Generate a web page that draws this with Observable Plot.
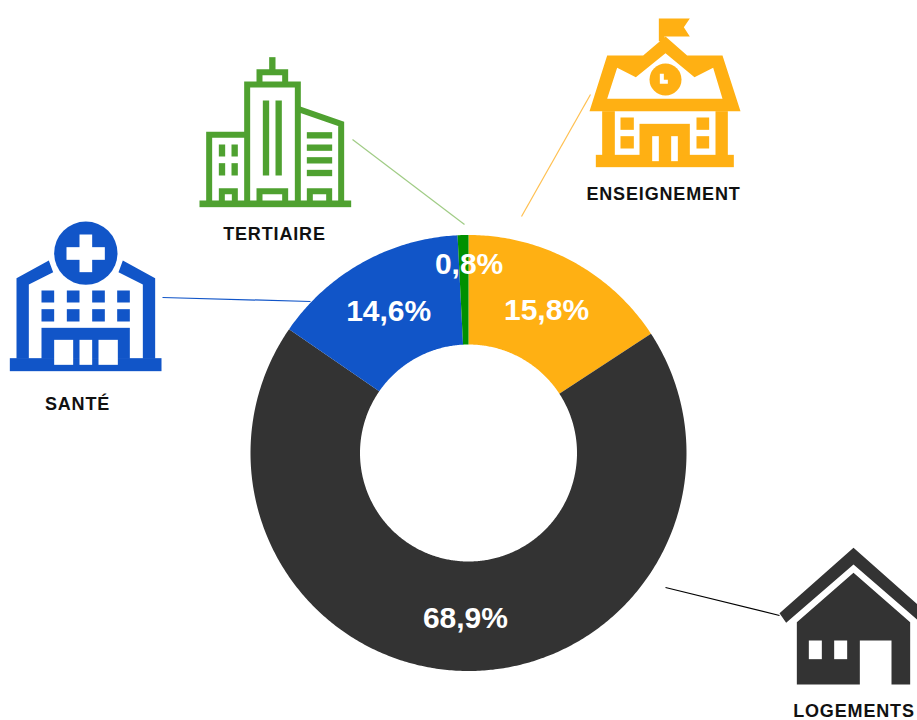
<!DOCTYPE html>
<html lang="fr">
<head>
<meta charset="utf-8">
<style>html,body{margin:0;padding:0;background:#fff}svg{display:block}</style>
<script src="https://cdn.jsdelivr.net/npm/d3@7"></script>
<script src="https://cdn.jsdelivr.net/npm/@observablehq/plot@0.6"></script>
</head>
<body>
<div id="chart"></div>
<script>
const categories = ["ENSEIGNEMENT", "LOGEMENTS", "SANTÉ", "TERTIAIRE"];
const shares = [15.8, 68.9, 14.6, 0.8];
const shareLabels = ["15,8%", "68,9%", "14,6%", "0,8%"];
const colors = ["#FFB013", "#333333", "#1155C8", "#009000"];
const leaderColors = ["#FFC050", "#000000", "#1155C8", "#A0CC85"];

const W = 917, H = 720, cx = 468.5, cy = 453, rOuter = 218, rInner = 108.5, rLabel = 164;
const total = d3.sum(shares);

let acc = 0;
const slices = categories.map((c, i) => {
  const a0 = acc / total * 2 * Math.PI;
  acc += shares[i];
  const a1 = acc / total * 2 * Math.PI;
  return {cat: c, a0, a1, label: shareLabels[i]};
});
const polar = (a, r) => [cx + r * Math.sin(a), cy - r * Math.cos(a)];

const ring = slices.flatMap(s => {
  const n = Math.max(2, Math.ceil((s.a1 - s.a0) / 0.01));
  return d3.range(n + 1).map(k => {
    const a = s.a0 + (s.a1 - s.a0) * k / n;
    const [xo, yo] = polar(a, rOuter), [xi, yi] = polar(a, rInner);
    return {cat: s.cat, xo, yo, xi, yi};
  });
});

const valueLabels = slices.map(s => {
  const r = s.cat === "TERTIAIRE" ? 190 : rLabel;
  const a = s.cat === "TERTIAIRE" ? 0.003 : (s.a0 + s.a1) / 2;
  const [x, y] = polar(a, r);
  return {x: x - 0.5 - (s.cat === "LOGEMENTS" ? 1 : 0), y: y + 1, text: s.label};
});

const nameLabels = [
  {x: 663, y: 193.5, text: "ENSEIGNEMENT"},
  {x: 853.5, y: 710.3, text: "LOGEMENTS"},
  {x: 77, y: 403.5, text: "SANTÉ"},
  {x: 274, y: 233.5, text: "TERTIAIRE"}
];

const leaders = [
  {x1: 590, y1: 94, x2: 521, y2: 216, c: leaderColors[0]},
  {x1: 665, y1: 587, x2: 779, y2: 615, c: leaderColors[1]},
  {x1: 162, y1: 297, x2: 310, y2: 301, c: leaderColors[2]},
  {x1: 352, y1: 139, x2: 464, y2: 224, c: leaderColors[3]}
];

const rects = (f, list) => list.map(([x0, y0, x1, y1]) =>
  `<rect x="${x0}" y="${y0}" width="${x1 - x0}" height="${y1 - y0}" fill="${f}"/>`).join("");

const svgUri = (w, h, body) => "data:image/svg+xml," + encodeURIComponent(
  `<svg xmlns="http://www.w3.org/2000/svg" width="${w}" height="${h}" viewBox="0 0 ${w * 3} ${h * 3}">${body}</svg>`);

const G = "#4FA130", O = "#FFB013", B = "#1155C8", D = "#333333", Wh = "#FFFFFF";

const tertiaire = svgUri(170, 240,
  rects(G, [[27,570,482,590],[236,140,255,180],[217,270,236,495],[255,270,274,495],
    [85,402,104,438],[123,402,142,438],[85,458,104,495],[123,458,142,495],
    [349,365,425,384],[349,402,425,421],[349,440,425,459],[349,478,425,497]]) +
  `<g fill="none" stroke="${G}" stroke-width="18">
    <path d="M56,572V373H170"/><path d="M170,572V222H322V572"/><path d="M207,222V185H284V222"/>
    <path d="M322,295L452,340V572"/><path d="M94,572V542H133V572"/><path d="M207,572V542H284V572"/><path d="M358,572V542H416V572"/>
  </g>`);

const enseignement = svgUri(180, 200,
  `<path fill="${O}" d="M265,24H358L340,50L358,78H282V92H265Z"/>
   <path fill="${O}" fill-rule="evenodd" d="M57,302L110,135H218L285,78L350,135H456L510,302ZM110,265H456L428,172L372,200L285,128L196,200L140,172Z"/>
   <circle cx="285" cy="207" r="48" fill="${O}"/>
   <path fill="${Wh}" d="M268,190H280V208H292V220H268Z"/>` +
  rects(O, [[95,302,133,435],[435,302,472,435],[76,433,490,470],[150,321,190,358],[150,377,190,414],
    [378,321,416,358],[378,377,416,414],[207,340,358,435]]) +
  rects(Wh, [[245,377,265,452],[302,377,322,452]]));

const sante = svgUri(180, 210,
  `<circle cx="256" cy="128" r="95" fill="${B}"/>` +
  rects(Wh, [[237,72,275,185],[198,110,313,148]]) +
  `<path fill="${B}" d="M48,203L145,150L158,185L85,222V445H48Z"/>
   <path fill="${B}" d="M464,203L367,150L354,185L427,222V445H464Z"/>` +
  rects(B, [[28,443,483,482],[123,240,161,276],[199,240,237,276],[275,240,313,276],[350,240,388,276],
    [123,296,161,333],[199,296,237,333],[275,296,313,333],[350,296,388,333],[123,352,388,445]]) +
  rects(Wh, [[161,388,218,463],[237,388,275,463],[294,388,352,463]]));

const logements = svgUri(150, 180,
  `<path fill="${D}" d="M36,218L258,22L480,218V264L258,72L56,247Z"/>
   <path fill="${D}" d="M88,245L258,97L428,245V432H372V300H277V432H88Z"/>` +
  rects(Wh, [[124,300,163,356],[200,300,239,356]]));

const icons = [
  {src: tertiaire, x: 190, y: 10, w: 170, h: 240},
  {src: enseignement, x: 570, y: 10, w: 180, h: 200},
  {src: sante, x: 0, y: 210, w: 180, h: 210},
  {src: logements, x: 767, y: 540, w: 150, h: 180}
];

const fontFamily = "'Liberation Sans', Arial, sans-serif";

const chart = Plot.plot({
  width: W, height: H,
  marginTop: 0, marginRight: 0, marginBottom: 0, marginLeft: 0,
  style: {background: "#fff", fontFamily},
  x: {domain: [0, W], range: [0, W], axis: null},
  y: {domain: [0, H], range: [0, H], axis: null},
  color: {domain: categories, range: colors},
  marks: [
    ...icons.map(d => Plot.image([d], {
      src: "src", x: v => v.x + v.w / 2, y: v => v.y + v.h / 2, width: d.w, height: d.h
    })),
    Plot.link(leaders, {x1: "x1", y1: "y1", x2: "x2", y2: "y2", stroke: "c", strokeWidth: 1.2}),
    Plot.area(ring, {x1: "xo", y1: "yo", x2: "xi", y2: "yi", z: "cat", fill: "cat"}),
    Plot.text(valueLabels, {x: "x", y: "y", text: "text", fill: "#fff", fontSize: 30, fontWeight: 700, fontFamily}),
    Plot.text(nameLabels, {x: "x", y: "y", text: "text", fill: "#111", fontSize: 18, fontWeight: 700, fontFamily})
  ]
});
d3.select(chart).selectAll("text")
  .filter(function () { return categories.includes(this.textContent); })
  .style("letter-spacing", "0.85px");
document.getElementById("chart").appendChild(chart);
</script>
</body>
</html>
